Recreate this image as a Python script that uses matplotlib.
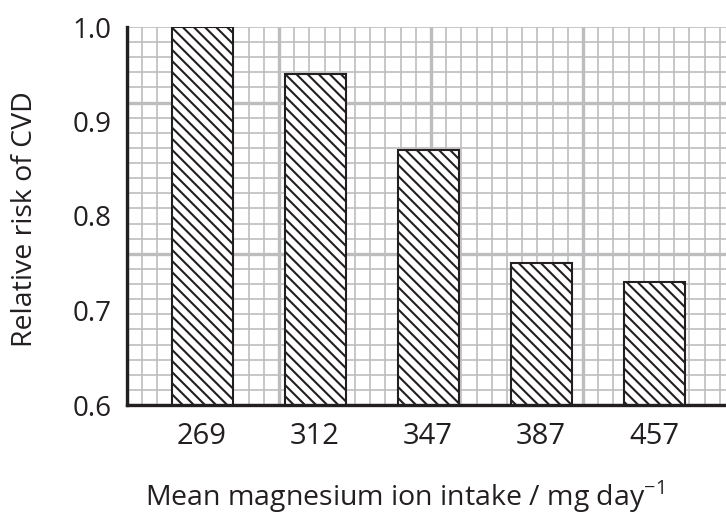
import numpy as np
import matplotlib
matplotlib.use("Agg")
from matplotlib import pyplot as plt

# data
intake = ["269", "312", "347", "387", "457"]
risk = [1.00, 0.95, 0.87, 0.75, 0.73]
yticks = [0.6, 0.7, 0.8, 0.9, 1.0]

ink = "#231f20"
paper = "#bdbdbf"

plt.rcParams['font.family'] = ['Open Sans', 'DejaVu Sans']
plt.rcParams['mathtext.fontset'] = 'custom'
plt.rcParams['mathtext.rm'] = 'Open Sans'
plt.rcParams['hatch.linewidth'] = 1.5
plt.rcParams['hatch.color'] = ink

fig = plt.figure(figsize=(7.26, 5.18), dpi=100)
ax = fig.add_axes([127/726, 113/518, 599/726, 378/518])

x0, x1 = -0.664, 4.637
y0, y1 = 0.6, 1.0
ax.set_xlim(x0, x1)
ax.set_ylim(y0, y1)

# graph paper background
dx = 0.1345
dy = 0.016
for k, xv in enumerate(np.arange(x0, x1, dx)):
    ax.axvline(xv, color=paper, lw=2.4 if k % 10 == 0 else 1.2, zorder=0)
for k, yv in enumerate(np.arange(y0, y1 + 0.001, dy)):
    ax.axhline(yv, color=paper, lw=2.4 if k % 10 == 0 else 1.2, zorder=0)

pos = np.arange(len(intake))
ax.bar(pos, risk, width=0.54, bottom=0, color="white", edgecolor=ink,
       linewidth=1.5, hatch="\\\\\\", zorder=2)

ax.set_xticks(pos)
ax.set_xticklabels(intake)
ax.set_yticks(yticks)
ax.set_yticklabels(["%.1f" % v for v in yticks])
ax.tick_params(axis='y', length=0, labelsize=20, colors=ink, pad=11)
ax.tick_params(axis='x', length=0, labelsize=21, colors=ink, pad=12)

for s in ["top", "right"]:
    ax.spines[s].set_visible(False)
for s in ["left", "bottom"]:
    ax.spines[s].set_linewidth(2.4)
    ax.spines[s].set_color(ink)
    ax.spines[s].set_zorder(3)

fig.text(405/726, 1 - 497/518, r"Mean magnesium ion intake / mg day$^{-1}$",
         ha="center", va="center", fontsize=20.5, color=ink)
fig.text(25/726, 1 - 219/518, "Relative risk of CVD", rotation=90,
         ha="center", va="center", fontsize=20.5, color=ink)

fig.savefig("out.png", dpi=100)
